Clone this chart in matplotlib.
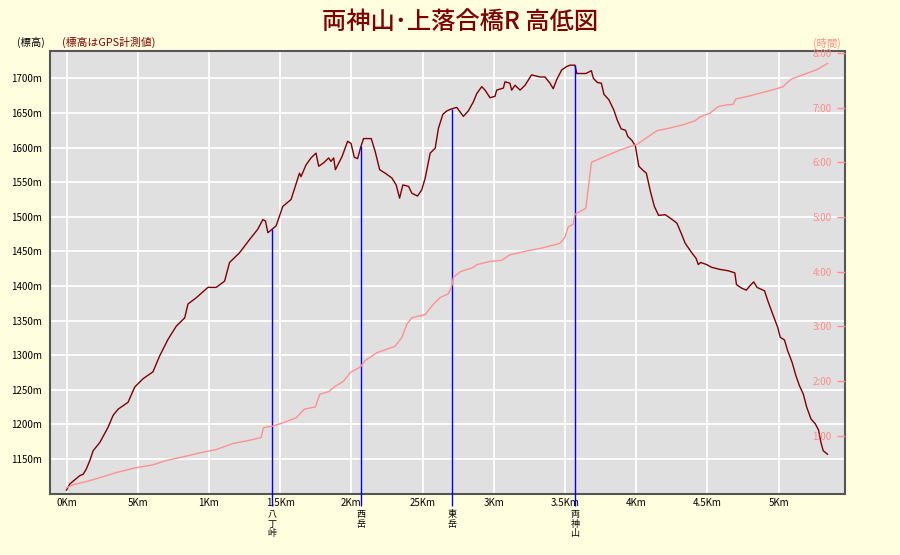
import matplotlib
matplotlib.use("Agg")
import matplotlib.pyplot as plt
import numpy as np

plt.rcParams['font.family'] = ['Noto Sans CJK JP', 'DejaVu Sans']

# elevation profile (km, m)
dist = [0.0, 0.023, 0.093, 0.117, 0.14, 0.164, 0.187, 0.234, 0.292, 0.327, 0.362, 0.432,
        0.479, 0.537, 0.607, 0.654, 0.713, 0.771, 0.83, 0.853, 0.911, 0.993, 1.051, 1.11,
        1.145, 1.215, 1.285, 1.343, 1.379, 1.397, 1.414, 1.444, 1.472, 1.519, 1.577, 1.636,
        1.647, 1.682, 1.717, 1.752, 1.771, 1.806, 1.841, 1.857, 1.876, 1.888, 1.935, 1.974,
        1.998, 2.021, 2.044, 2.068, 2.086, 2.14, 2.168, 2.199, 2.238, 2.285, 2.315, 2.339,
        2.362, 2.402, 2.425, 2.465, 2.495, 2.519, 2.554, 2.589, 2.612, 2.643, 2.671, 2.706,
        2.741, 2.787, 2.822, 2.857, 2.881, 2.916, 2.939, 2.974, 3.009, 3.021, 3.068, 3.079,
        3.114, 3.126, 3.15, 3.185, 3.22, 3.266, 3.325, 3.36, 3.395, 3.418, 3.442, 3.477,
        3.512, 3.535, 3.57, 3.584, 3.647, 3.686, 3.7, 3.728, 3.756, 3.774, 3.809, 3.844,
        3.867, 3.895, 3.926, 3.942, 3.972, 3.995, 4.019, 4.049, 4.072, 4.1, 4.128, 4.158,
        4.205, 4.24, 4.286, 4.321, 4.344, 4.391, 4.421, 4.437, 4.453, 4.495, 4.53, 4.588,
        4.647, 4.693, 4.705, 4.74, 4.774, 4.798, 4.826, 4.849, 4.902, 4.926, 4.96, 4.995,
        5.012, 5.042, 5.065, 5.095, 5.123, 5.147, 5.174, 5.198, 5.228, 5.258, 5.281, 5.298,
        5.314, 5.344]
elev = [1105, 1114, 1126, 1128, 1136, 1148, 1162, 1174, 1196, 1213, 1222, 1232,
        1254, 1266, 1276, 1299, 1323, 1342, 1354, 1374, 1383, 1398, 1398, 1407,
        1434, 1448, 1467, 1482, 1496, 1494, 1477, 1482, 1487, 1515, 1525, 1563,
        1558, 1575, 1585, 1592, 1573, 1578, 1585, 1580, 1585, 1568, 1587, 1609,
        1606, 1586, 1584, 1602, 1613, 1613, 1594, 1568, 1563, 1556, 1546, 1527,
        1546, 1544, 1534, 1530, 1539, 1556, 1592, 1599, 1628, 1648, 1653, 1656,
        1658, 1645, 1653, 1666, 1678, 1688, 1683, 1672, 1674, 1683, 1686, 1695,
        1693, 1683, 1690, 1683, 1690, 1705, 1702, 1702, 1693, 1685, 1698, 1712,
        1717, 1719, 1719, 1707, 1707, 1711, 1700, 1694, 1693, 1677, 1669, 1654,
        1640, 1627, 1625, 1616, 1610, 1602, 1573, 1567, 1563, 1537, 1515, 1502,
        1503, 1498, 1491, 1474, 1462, 1448, 1440, 1431, 1434, 1431, 1427, 1424,
        1422, 1419, 1402, 1397, 1394, 1400, 1406, 1398, 1393, 1378, 1359, 1340,
        1326, 1322, 1306, 1290, 1270, 1256, 1244, 1225, 1208, 1201, 1192, 1174,
        1162, 1157]

# elapsed time (km, hours)
t_dist = [0.0, 0.047, 0.117, 0.187, 0.35, 0.49, 0.607, 0.7, 0.841, 0.935, 1.051, 1.168,
          1.285, 1.367, 1.383, 1.449, 1.519, 1.612, 1.671, 1.748, 1.778, 1.841, 1.888,
          1.946, 1.993, 2.063, 2.098, 2.18, 2.308, 2.355, 2.39, 2.425, 2.519, 2.577,
          2.624, 2.682, 2.706, 2.717, 2.764, 2.857, 2.881, 2.974, 3.056, 3.114, 3.231,
          3.348, 3.465, 3.5, 3.523, 3.558, 3.57, 3.647, 3.686, 3.774, 3.891, 4.007,
          4.147, 4.24, 4.333, 4.414, 4.449, 4.519, 4.577, 4.635, 4.681, 4.7, 4.774,
          4.937, 5.03, 5.088, 5.17, 5.274, 5.344]
hours = [0.05, 0.11, 0.15, 0.2, 0.33, 0.42, 0.47, 0.55, 0.63, 0.69, 0.75, 0.86,
         0.92, 0.97, 1.15, 1.18, 1.24, 1.33, 1.49, 1.53, 1.76, 1.81, 1.91,
         2.0, 2.16, 2.26, 2.38, 2.52, 2.64, 2.8, 3.04, 3.16, 3.22, 3.41,
         3.53, 3.6, 3.74, 3.9, 4.0, 4.08, 4.13, 4.19, 4.21, 4.31, 4.38,
         4.44, 4.52, 4.63, 4.82, 4.87, 5.05, 5.16, 6.0, 6.1, 6.23, 6.33,
         6.58, 6.63, 6.69, 6.76, 6.83, 6.9, 7.02, 7.05, 7.06, 7.16, 7.2,
         7.31, 7.38, 7.52, 7.6, 7.7, 7.81]

# landmarks
spots = ["八丁峠", "西岳", "東岳", "両神山"]
spot_km = [1.444, 2.068, 2.706, 3.570]

x_ticks = [0, 0.5, 1, 1.5, 2, 2.5, 3, 3.5, 4, 4.5, 5]
x_labels = ["0Km", "5Km", "1Km", "1.5Km", "2Km", "25Km", "3Km", "3.5Km", "4Km", "4.5Km", "5Km"]
y_ticks = list(range(1150, 1701, 50))
h_ticks = list(range(1, 9))

fig = plt.figure(figsize=(9, 5.55), dpi=100, facecolor='#FFFFE0')
ax = fig.add_axes([50/900, 1-494/555, 795/900, 443/555])
ax.set_facecolor('#E0E0E0')

ax.plot(dist, elev, color='#800000', lw=1.0, zorder=3)

# landmark lines, from profile down below the axis
tops = np.interp(spot_km, dist, elev)
ax.vlines(spot_km, 1082, tops, color='#0000FF', lw=1.0, clip_on=False, zorder=4)
for name, k in zip(spots, spot_km):
    ax.text(k, -0.037, "\n".join(name), transform=ax.get_xaxis_transform(),
            ha='center', va='top', fontsize=6.5, linespacing=1.05, color='black')

ax.set_xlim(-0.116, 5.467)
ax.set_ylim(1099.5, 1739.5)
ax.set_xticks(x_ticks)
ax.set_xticklabels(x_labels)
ax.set_yticks(y_ticks)
ax.set_yticklabels([f"{v}m" for v in y_ticks])
ax.tick_params(axis='both', length=0, labelsize=7, colors='black')
ax.tick_params(axis='x', pad=3)
ax.tick_params(axis='y', pad=6)
ax.grid(True, color='white', lw=1.3)
ax.set_axisbelow(True)

for s in ax.spines.values():
    s.set_color('#555555')
    s.set_linewidth(1.5)

ax2 = ax.twinx()
ax2.plot(t_dist, hours, color='#FF9090', lw=1.0)
ax2.set_ylim(-0.062, 8.036)
ax2.set_yticks(h_ticks)
ax2.set_yticklabels([f"{h}:00" for h in h_ticks])
ax2.tick_params(axis='y', direction='in', length=6, width=1, colors='#FF8C8C',
                labelsize=7, pad=-9.5)
for lb in ax2.get_yticklabels():
    lb.set_horizontalalignment('right')
for s in ax2.spines.values():
    s.set_visible(False)

fig.text(0.511, 0.96, "両神山･上落合橋R 高低図", ha='center', va='center',
         fontsize=17.5, color='#800000', fontweight='medium')
fig.text(31/900, 1-42/555, "(標高)", ha='center', va='center', fontsize=7.5, color='black')
fig.text(62/900, 1-42/555, "(標高はGPS計測値)", ha='left', va='center', fontsize=7.8,
         color='#800000')
fig.text(827/900, 1-43/555, "(時間)", ha='center', va='center', fontsize=7.5, color='#FF8C8C')

plt.savefig("out.png", dpi=100, facecolor=fig.get_facecolor())
